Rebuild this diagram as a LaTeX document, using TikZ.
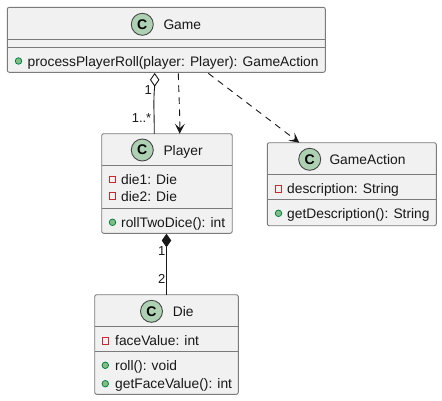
\documentclass[tikz,border=0pt]{standalone}
\usepackage{fontspec}
\setmainfont{Liberation Sans}
\usetikzlibrary{arrows.meta,calc}
\definecolor{boxfill}{HTML}{F1F1F1}
\definecolor{boxline}{HTML}{7B7B7B}
\definecolor{spotfill}{HTML}{ADD1B2}
\definecolor{pubfill}{HTML}{84BE84}
\definecolor{publine}{HTML}{038048}
\definecolor{privline}{HTML}{C82930}
\definecolor{ink}{HTML}{181818}
\tikzset{
  classbox/.style={draw=boxline,fill=boxfill,line width=0.9pt,rounded corners=2pt,inner sep=0pt,outer sep=0pt,anchor=north west},
  divider/.style={draw=boxline,line width=0.9pt},
  spot/.style={circle,draw=ink!80,fill=spotfill,line width=0.9pt,minimum size=22pt,inner sep=0pt},
  spotletter/.style={font=\fontsize{14}{14}\selectfont\bfseries,text=black,inner sep=0pt},
  title/.style={font=\fontsize{13.8}{14}\selectfont,text=ink,anchor=base west,inner sep=0pt},
  member/.style={font=\fontsize{13.8}{14}\selectfont,text=ink,anchor=base west,inner sep=0pt},
  pub/.style={circle,draw=publine,fill=pubfill,line width=0.8pt,minimum size=6.5pt,inner sep=0pt},
  priv/.style={rectangle,draw=privline,line width=0.9pt,minimum size=6.5pt,inner sep=0pt},
  edge/.style={draw=ink,line width=0.9pt},
  dep/.style={edge,dash pattern=on 6.5pt off 5.5pt,-{Stealth[length=10pt,width=10pt,inset=4.5pt,line width=0.9pt]}},
  mult/.style={font=\fontsize{13}{13}\selectfont,text=ink,inner sep=0pt},
}
\begin{document}
\begin{tikzpicture}[x=1pt,y=-1pt]
\useasboundingbox (0,0) rectangle (442,400);
% Game
\node[classbox,minimum width=318pt,minimum height=65pt] (game) at (7.3,7.3) {};
\draw[divider] (7.3,39.3) -- (325.3,39.3);
\draw[divider] (7.3,47.3) -- (325.3,47.3);
\node[spot] (gamespot) at (142.3,24.3) {};
\node[spotletter] (gamec) at (gamespot) {C};
\node[title] (gamet) at (163.3,29.3) {Game};
\node[pub] (gamem0) at (18.5,61) {};
\node[member] (gamem) at (27.5,66) {processPlayerRoll(player: Player): GameAction};
% Player
\node[classbox,minimum width=130.5pt,minimum height=99.6pt] (player) at (101.7,133.7) {};
\draw[divider] (101.7,165.3) -- (232.2,165.3);
\draw[divider] (101.7,208.7) -- (232.2,208.7);
\node[spot] (playerspot) at (142.3,150) {};
\node[spotletter] (playerc) at (playerspot) {C};
\node[title] (playert) at (163.3,155) {Player};
\node[priv] (playerp1) at (112.5,179.5) {};
\node[member] (playerd1) at (121,184.5) {die1: Die};
\node[priv] (playerp2) at (112.5,196) {};
\node[member] (playerd2) at (121,201) {die2: Die};
\node[pub] (playerm0) at (112.5,222.3) {};
\node[member] (playerm) at (121,227.3) {rollTwoDice(): int};
% GameAction
\node[classbox,minimum width=169pt,minimum height=83pt] (action) at (267.3,142.7) {};
\draw[divider] (267.3,174.3) -- (436.3,174.3);
\draw[divider] (267.3,199.3) -- (436.3,199.3);
\node[spot] (actionspot) at (309.7,159.3) {};
\node[spotletter] (actionc) at (actionspot) {C};
\node[title] (actiont) at (329.3,164.3) {GameAction};
\node[priv] (actionp) at (278.5,188.7) {};
\node[member] (actiond) at (287,193.7) {description: String};
\node[pub] (actionm0) at (278.5,213.3) {};
\node[member] (actionm) at (287,218.3) {getDescription(): String};
% Die
\node[classbox,minimum width=143.6pt,minimum height=99.6pt] (die) at (94.7,294.7) {};
\draw[divider] (94.7,326.7) -- (238.3,326.7);
\draw[divider] (94.7,351.7) -- (238.3,351.7);
\node[spot] (diespot) at (151.5,311.3) {};
\node[spotletter] (diec) at (diespot) {C};
\node[title] (diet) at (172.7,316.3) {Die};
\node[priv] (diep) at (105.3,340.7) {};
\node[member] (died) at (115,345.7) {faceValue: int};
\node[pub] (diem0) at (105.3,365.3) {};
\node[member] (diem1) at (115,370.3) {roll(): void};
\node[pub] (diem2) at (105.3,383.7) {};
\node[member] (diem3) at (115,388.7) {getFaceValue(): int};
% Connectors
\coordinate (aggtip) at ($(game.south west)+(147.4,1.4)$);
\coordinate (aggend) at ($(aggtip)+(0,12.2)$);
\draw[edge] (aggend) .. controls (153.2,100) and (154.3,115) .. (player.north west -| 154.3,0);
\draw[edge,fill=white] (aggtip) -- ++(4.2,6.1) -- (aggend) -- ++(-4.2,-6.1) -- cycle;
\draw[dep] ($(game.south west)+(171,1)$) .. controls (179,100) and (180,115) .. ($(player.north west)+(78,0)$);
\draw[dep] ($(game.south west)+(201,1)$) -- ($(action.north west)+(32,0)$);
\coordinate (comptip) at ($(player.south west)+(64.8,1.2)$);
\coordinate (compend) at ($(comptip)+(0,12)$);
\draw[edge] (compend) -- (comptip |- die.north);
\draw[edge,fill=ink] (comptip) -- ++(4.2,6) -- (compend) -- ++(-4.2,-6) -- cycle;
% Multiplicities
\node[mult,anchor=base east] (m1) at (152,94.5) {1};
\node[mult,anchor=base east] (m2) at (151.5,122.5) {1..*};
\node[mult,anchor=base east] (m3) at (165.5,255) {1};
\node[mult,anchor=base east] (m4) at (165.5,283.5) {2};
\end{tikzpicture}
\end{document}
